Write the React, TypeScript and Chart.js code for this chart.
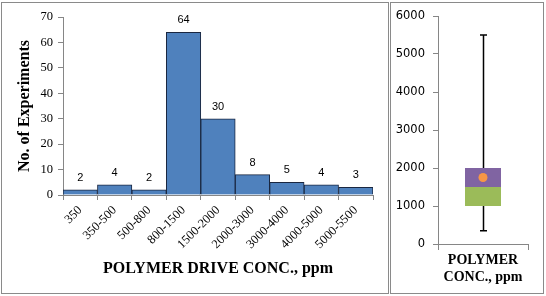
import React, { useEffect, useRef } from 'react';
import { Chart, registerables } from 'chart.js';

Chart.register(...registerables);

// ---------- Data ----------
const categories = ['350', '350-500', '500-800', '800-1500', '1500-2000', '2000-3000', '3000-4000', '4000-5000', '5000-5500'];
const experiments = [2, 4, 2, 64, 30, 8, 5, 4, 3];
const histYMin = 0;
const histYMax = 70;
const histYStep = 10;

const boxCategory = [''];
const boxQ1 = [1000];
const boxMedian = [1500];
const boxQ3 = [2000];
const boxMean = [1750];
const whiskerMin = [350];
const whiskerMax = [5500];
const boxYMin = 0;
const boxYMax = 6000;
const boxYStep = 1000;

const AXIS_GREY = '#868686';

const dataLabelPlugin = {
  id: 'dataLabels',
  afterDatasetsDraw(chart: any) {
    const ctx = chart.ctx;
    const meta = chart.getDatasetMeta(0);
    ctx.save();
    ctx.font = '11px "Liberation Sans"';
    ctx.fillStyle = '#000';
    ctx.textAlign = 'center';
    ctx.textBaseline = 'alphabetic';
    meta.data.forEach((bar: any, i: number) => {
      ctx.fillText(String(experiments[i]), bar.x, bar.y - 9);
    });
    ctx.restore();
  },
};

const whiskerPlugin = {
  id: 'whisker',
  beforeDatasetsDraw(chart: any) {
    const ctx = chart.ctx;
    const y = chart.scales.y;
    const meta = chart.getDatasetMeta(0);
    ctx.save();
    ctx.strokeStyle = '#000';
    ctx.lineWidth = 1.5;
    meta.data.forEach((bar: any, i: number) => {
      const x = bar.x + 0.5;
      const top = y.getPixelForValue(whiskerMax[i]);
      const bot = y.getPixelForValue(whiskerMin[i]);
      ctx.beginPath();
      ctx.moveTo(x, top);
      ctx.lineTo(x, bot);
      ctx.moveTo(x - 3.5, top);
      ctx.lineTo(x + 3.5, top);
      ctx.moveTo(x - 3.5, bot);
      ctx.lineTo(x + 3.5, bot);
      ctx.stroke();
    });
    ctx.restore();
  },
};

export default function App() {
  const histRef = useRef<HTMLCanvasElement>(null);
  const boxRef = useRef<HTMLCanvasElement>(null);

  useEffect(() => {
    const hist = new Chart(histRef.current as HTMLCanvasElement, {
      type: 'bar',
      data: {
        labels: categories,
        datasets: [
          {
            data: experiments,
            backgroundColor: '#4F81BD',
            borderColor: '#1A2740',
            borderWidth: 1,
            barPercentage: 1,
            categoryPercentage: 1,
          },
        ],
      },
      options: {
        animation: false,
        responsive: false,
        devicePixelRatio: 1,
        layout: { padding: { top: 17, right: 15, left: 0, bottom: 0 } },
        plugins: { legend: { display: false }, tooltip: { enabled: false } },
        scales: {
          x: {
            grid: { drawOnChartArea: false, drawTicks: true, tickLength: 5, color: AXIS_GREY },
            border: { color: AXIS_GREY },
            ticks: {
              color: '#000',
              font: { family: 'Liberation Serif', size: 12.5 },
              minRotation: 45,
              maxRotation: 45,
              padding: 3,
            },
            title: {
              display: true,
              text: 'POLYMER DRIVE CONC., ppm',
              color: '#000',
              font: { family: 'Liberation Serif', size: 16, weight: 'bold' },
              padding: { top: 0, bottom: 18 },
            },
            afterFit: (s: any) => {
              s.height = 101;
            },
          },
          y: {
            min: histYMin,
            max: histYMax,
            ticks: {
              stepSize: histYStep,
              color: '#000',
              font: { family: 'Liberation Serif', size: 12.5 },
              padding: 5,
            },
            grid: { drawOnChartArea: false, drawTicks: true, tickLength: 5, color: AXIS_GREY },
            border: { color: AXIS_GREY },
            title: {
              display: true,
              text: 'No. of Experiments',
              color: '#000',
              font: { family: 'Liberation Serif', size: 16, weight: 'bold' },
              padding: { top: 15, bottom: 0 },
            },
            afterFit: (s: any) => {
              s.width = 63;
            },
          },
        },
      } as any,
      plugins: [dataLabelPlugin],
    });

    const box = new Chart(boxRef.current as HTMLCanvasElement, {
      type: 'bar',
      data: {
        labels: boxCategory,
        datasets: [
          {
            data: boxQ1.map((v, i) => [v, boxMedian[i]]),
            backgroundColor: '#9BBB59',
            borderWidth: 0,
            grouped: false,
            barPercentage: 0.4,
            categoryPercentage: 1,
            order: 2,
          } as any,
          {
            data: boxMedian.map((v, i) => [v, boxQ3[i]]),
            backgroundColor: '#8064A2',
            borderWidth: 0,
            grouped: false,
            barPercentage: 0.4,
            categoryPercentage: 1,
            order: 2,
          } as any,
          {
            type: 'line',
            data: boxMean,
            showLine: false,
            pointRadius: 4.5,
            pointBackgroundColor: '#F79646',
            pointBorderWidth: 0,
            order: 0,
          } as any,
        ],
      },
      options: {
        animation: false,
        responsive: false,
        devicePixelRatio: 1,
        layout: { padding: { top: 16, right: 18, left: 0, bottom: 0 } },
        plugins: { legend: { display: false }, tooltip: { enabled: false } },
        scales: {
          x: {
            grid: { drawOnChartArea: false, drawTicks: true, tickLength: 6, color: AXIS_GREY },
            border: { color: AXIS_GREY },
            ticks: { display: true, color: '#000' },
            title: {
              display: true,
              text: ['POLYMER', 'CONC., ppm'],
              color: '#000',
              font: { family: 'Liberation Serif', size: 14, weight: 'bold', lineHeight: 1.18 },
              padding: { top: 0, bottom: 10.5 },
            },
            afterFit: (s: any) => {
              s.height = 52;
            },
          },
          y: {
            min: boxYMin,
            max: boxYMax,
            ticks: {
              stepSize: boxYStep,
              color: '#000',
              font: { family: 'DejaVu Sans', size: 11.5 },
              padding: 8,
              callback: (v: any) => String(v),
            },
            grid: { drawOnChartArea: false, drawTicks: true, tickLength: 5, color: AXIS_GREY },
            border: { color: AXIS_GREY },
            afterFit: (s: any) => {
              s.width = 48;
            },
          },
        },
      } as any,
      plugins: [whiskerPlugin],
    });

    return () => {
      hist.destroy();
      box.destroy();
    };
  }, []);

  return (
    <div style={{ position: 'absolute', left: 0, top: 0, width: 546, height: 296, background: '#fff', overflow: 'hidden' }}>
      <div style={{ position: 'absolute', left: 1, top: 2, width: 386, height: 290, border: '1px solid #8a8a8a' }} />
      <div style={{ position: 'absolute', left: 390, top: 2, width: 152, height: 290, border: '1px solid #8a8a8a' }} />
      <canvas ref={histRef} width={388} height={296} style={{ position: 'absolute', left: 0, top: 0 }} />
      <canvas ref={boxRef} width={156} height={296} style={{ position: 'absolute', left: 390, top: 0 }} />
    </div>
  );
}
